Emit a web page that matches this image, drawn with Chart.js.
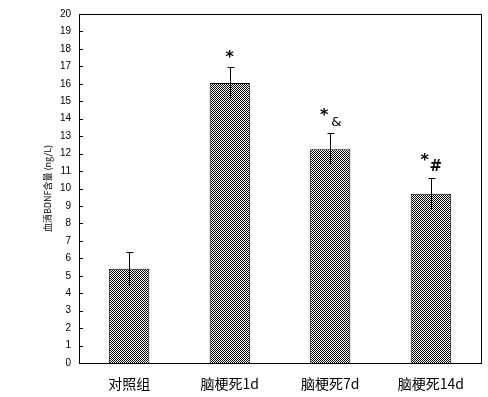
<!DOCTYPE html>
<html>
<head>
<meta charset="utf-8">
<script src="https://cdn.jsdelivr.net/npm/chart.js@4/dist/chart.umd.min.js"></script>
<style>
  html, body { margin: 0; padding: 0; background: #fff; }
  #wrap { width: 488px; height: 397px; }
</style>
</head>
<body>
<div id="wrap"><canvas id="chart"></canvas></div>
<script>
// data
const groups = ['对照组', '脑梗死1d', '脑梗死7d', '脑梗死14d'];
const means = [5.4, 16.05, 12.25, 9.7];
const errs = [0.95, 0.93, 0.93, 0.93];
const marks = ['', '*', '*&', '*#'];
const yTicks = [0, 20, 1];

// checker fill like the old dithered bars
function checker() {
  const c = document.createElement('canvas');
  c.width = 2; c.height = 2;
  const g = c.getContext('2d');
  g.fillStyle = '#fff'; g.fillRect(0, 0, 2, 2);
  g.fillStyle = '#000'; g.fillRect(0, 0, 1, 1); g.fillRect(1, 1, 1, 1);
  return g.createPattern(c, 'repeat');
}
const ctx0 = document.getElementById('chart').getContext('2d');
const fill = checker();

// frame, inner ticks, error bars, marks
const extras = {
  id: 'extras',
  afterDatasetsDraw(chart) {
    const { ctx, chartArea: a, scales: { x, y } } = chart;
    ctx.save();
    ctx.strokeStyle = '#000';
    ctx.lineWidth = 1;
    ctx.strokeRect(Math.round(a.left) + 0.5, Math.round(a.top) + 0.5,
                   Math.round(a.right - a.left), Math.round(a.bottom - a.top));
    // y ticks inside
    for (let v = yTicks[0]; v <= yTicks[1]; v += yTicks[2]) {
      const py = Math.round(y.getPixelForValue(v)) + 0.5;
      ctx.beginPath();
      ctx.moveTo(a.left, py); ctx.lineTo(a.left + 4, py);
      ctx.stroke();
    }
    // error bars (top cap only)
    means.forEach((m, i) => {
      const px = Math.round(x.getPixelForValue(i)) + 0.5;
      const top = Math.round(y.getPixelForValue(m + errs[i])) + 0.5;
      const bot = Math.round(y.getPixelForValue(m - errs[i]));
      ctx.beginPath();
      ctx.moveTo(px, top); ctx.lineTo(px, bot);
      ctx.moveTo(px - 3, top); ctx.lineTo(px + 4, top);
      ctx.stroke();
    });
    // significance marks
    ctx.fillStyle = '#000';
    ctx.textAlign = 'center';
    ctx.textBaseline = 'middle';
    marks.forEach((s, i) => {
      if (!s) return;
      const px = x.getPixelForValue(i);
      const top = y.getPixelForValue(means[i] + errs[i]);
      if (s.length === 1) {
        ctx.font = 'bold 16px "DejaVu Sans"';
        ctx.fillText('*', px, top - 9);
      } else {
        ctx.font = 'bold 16px "DejaVu Sans"';
        ctx.fillText('*', px - 6, top - 17);
        if (s[1] === '&') {
          ctx.font = '13px "DejaVu Sans"';
          ctx.fillText('&', px + 6, top - 10);
        } else {
          ctx.font = 'bold 15px "DejaVu Sans"';
          ctx.fillText('#', px + 5, top - 10);
        }
      }
    });
    ctx.restore();
  }
};

new Chart(ctx0, {
  type: 'bar',
  data: {
    labels: groups,
    datasets: [{
      data: means,
      backgroundColor: fill,
      borderColor: '#000',
      borderWidth: 1,
      borderSkipped: 'bottom',
      barPercentage: 0.4,
      categoryPercentage: 1
    }]
  },
  options: {
    responsive: true,
    maintainAspectRatio: false,
    animation: false,
    layout: { padding: { left: 0, top: 13, right: 7, bottom: 0 } },
    plugins: { legend: { display: false }, tooltip: { enabled: false } },
    scales: {
      x: {
        grid: { display: false, drawTicks: false },
        border: { color: '#000' },
        ticks: { color: '#000', padding: 12, maxRotation: 0,
                 font: { family: '"Noto Sans CJK SC"', size: 14 } },
        afterFit(s) { s.height = 34; }
      },
      y: {
        min: yTicks[0], max: yTicks[1],
        grid: { display: false, drawTicks: false },
        border: { color: '#000' },
        ticks: { stepSize: yTicks[2], color: '#000', padding: 8,
                 font: { family: '"Liberation Sans"', size: 10 } },
        title: { display: true, text: '血清BDNF含量 (ng/L)', color: '#000',
                 padding: { top: 42, bottom: 0 },
                 font: { family: '"Noto Sans CJK SC"', size: 9 } },
        afterFit(s) { s.width = 79; }
      }
    }
  },
  plugins: [extras]
});
</script>
</body>
</html>
